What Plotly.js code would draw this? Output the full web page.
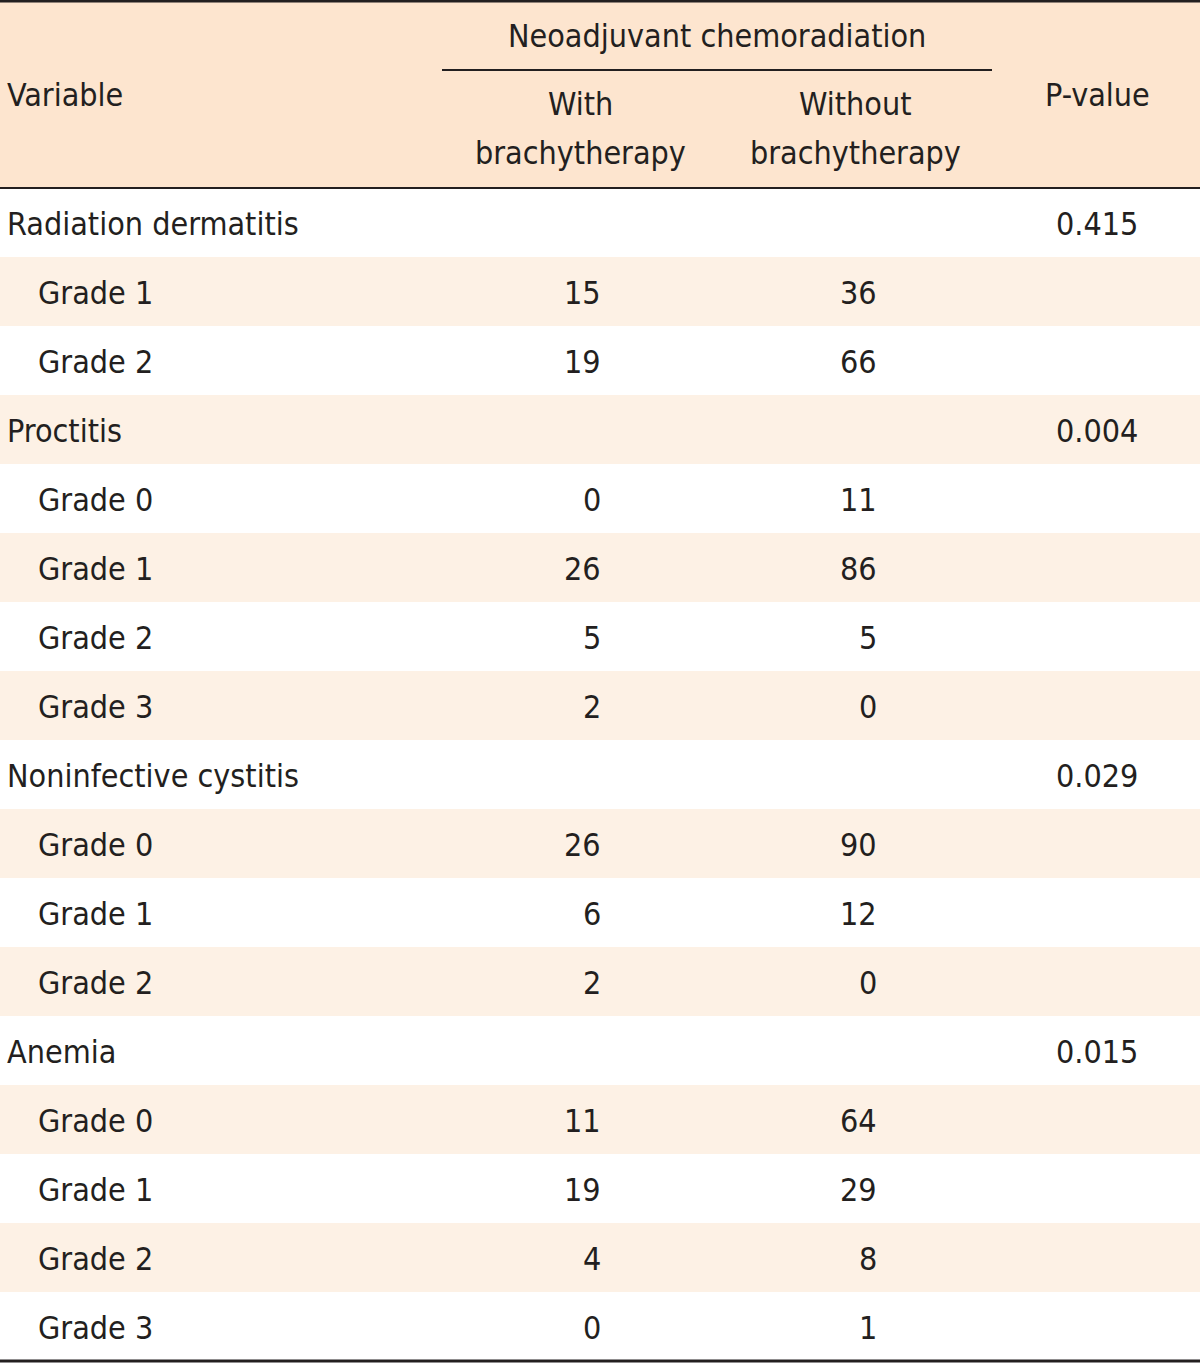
<!DOCTYPE html>
<html><head><meta charset="utf-8">
<script src="https://cdn.plot.ly/plotly-3.0.1.min.js"></script>
<style>html,body{margin:0;padding:0;background:#fff}</style>
</head><body><div id="chart" style="width:1200px;height:1363px"></div>
<script>
// ---- data ----
const variables = ["Radiation dermatitis","Grade 1","Grade 2","Proctitis","Grade 0","Grade 1","Grade 2","Grade 3","Noninfective cystitis","Grade 0","Grade 1","Grade 2","Anemia","Grade 0","Grade 1","Grade 2","Grade 3"];
const isSubRow = [false,true,true,false,true,true,true,true,false,true,true,true,false,true,true,true,true];
const withBrachy = ["",15,19,"",0,26,5,2,"",26,6,2,"",11,19,4,0];
const withoutBrachy = ["",36,66,"",11,86,5,0,"",90,12,0,"",64,29,8,1];
const pValues = ["0.415","","","0.004","","","","","0.029","","","","0.015","","","",""];
const headerSpan = "Neoadjuvant chemoradiation";
const headerVariable = "Variable";
const headerWith = ["With","brachytherapy"];
const headerWithout = ["Without","brachytherapy"];
const headerP = "P-value";

// ---- layout ----
const W = 1200, H = 1363;
const headerTop = 2, headerBottom = 188, tableBottom = 1361;
const rowH = (tableBottom - headerBottom) / variables.length;
const FONT = '"DejaVu Sans Condensed", "Liberation Sans Narrow", sans-serif';
const TXT = '#231f20';
const fontSize = 32;
const xVar = 5, xSub = 36, xWithR = 603, xWithoutR = 879, xP = 1097;
const xWithC = 580, xWithoutC = 855, spanL = 442, spanR = 992;

const shapes = [];
const ann = [];
const f = {family:FONT, size:fontSize, color:TXT};
shapes.push({type:'rect', xref:'x', yref:'y', x0:0, x1:W, y0:headerTop, y1:headerBottom, fillcolor:'#fde5cf', line:{width:0}, layer:'below'});
variables.forEach((v,i)=>{
  const y0 = headerBottom + i*rowH, y1 = y0 + rowH;
  if (i % 2 === 1) shapes.push({type:'rect', xref:'x', yref:'y', x0:0, x1:W, y0:y0, y1:y1, fillcolor:'#fdf1e5', line:{width:0}, layer:'below'});
  const yc = (y0+y1)/2 + 1;
  ann.push({x: isSubRow[i]?xSub:xVar, y:yc, text:v, xanchor:'left', yanchor:'middle', showarrow:false, font:f});
  if (withBrachy[i] !== "") ann.push({x:xWithR, y:yc, text:String(withBrachy[i]), xanchor:'right', yanchor:'middle', showarrow:false, font:f});
  if (withoutBrachy[i] !== "") ann.push({x:xWithoutR, y:yc, text:String(withoutBrachy[i]), xanchor:'right', yanchor:'middle', showarrow:false, font:f});
  if (pValues[i] !== "") ann.push({x:xP, y:yc, text:pValues[i], xanchor:'center', yanchor:'middle', showarrow:false, font:f});
});
// header
ann.push({x:(spanL+spanR)/2, y:36, text:headerSpan, xanchor:'center', yanchor:'middle', showarrow:false, font:f});
ann.push({x:xVar, y:95, text:headerVariable, xanchor:'left', yanchor:'middle', showarrow:false, font:f});
ann.push({x:xP, y:95, text:headerP, xanchor:'center', yanchor:'middle', showarrow:false, font:f});
[104,153].forEach((yy,k)=>{
  ann.push({x:xWithC, y:yy, text:headerWith[k], xanchor:'center', yanchor:'middle', showarrow:false, font:f});
  ann.push({x:xWithoutC, y:yy, text:headerWithout[k], xanchor:'center', yanchor:'middle', showarrow:false, font:f});
});
// lines
shapes.push({type:'line', xref:'x', yref:'y', x0:spanL, x1:spanR, y0:70, y1:70, line:{color:TXT, width:2}});
shapes.push({type:'line', xref:'x', yref:'y', x0:0, x1:W, y0:1, y1:1, line:{color:TXT, width:3}});
shapes.push({type:'line', xref:'x', yref:'y', x0:0, x1:W, y0:headerBottom, y1:headerBottom, line:{color:TXT, width:2}});
shapes.push({type:'line', xref:'x', yref:'y', x0:0, x1:W, y0:tableBottom, y1:tableBottom, line:{color:TXT, width:3}});

Plotly.newPlot('chart', [], {
  width:W, height:H, margin:{l:0,r:0,t:0,b:0},
  paper_bgcolor:'#fff', plot_bgcolor:'#fff',
  xaxis:{range:[0,W], visible:false, fixedrange:true},
  yaxis:{range:[H,0], visible:false, fixedrange:true},
  shapes:shapes, annotations:ann, showlegend:false
}, {staticPlot:true});
</script></body></html>
